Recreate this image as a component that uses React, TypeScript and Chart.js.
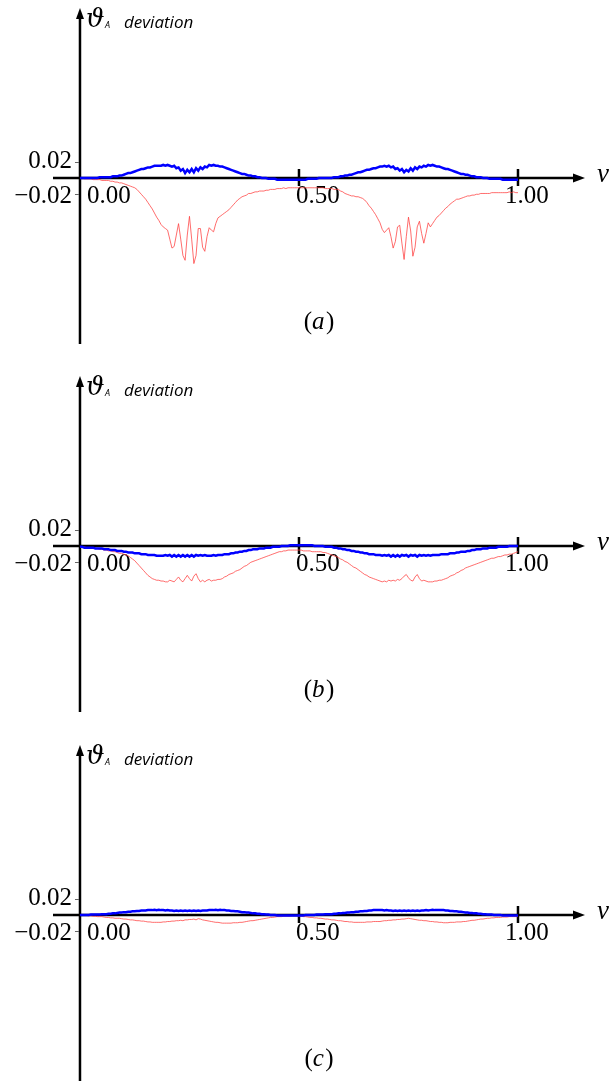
import React, { useEffect, useRef } from "react";
import { Chart, registerables } from "chart.js";

Chart.register(...registerables);

// v sampled from 0 to 1 in steps of 0.005 (201 samples); series values are in thousandths.
const V_SAMPLES = 201;
const xTickValues = [0, 0.5, 1];
const xTickLabels = ["0.00", "0.50", "1.00"];
const yTickValues = [0.02, -0.02];
const yTickLabels = ["0.02", "\u22120.02"];
const captions = ["a", "b", "c"];

const aBlue = [
  0, 0, 0, 0, 0, 0, 0, 0, 0, 1,
  1, 1, 1, 1, 1, 2, 2, 2, 3, 3,
  4, 5, 6, 6, 7, 8, 9, 10, 11, 11,
  12, 13, 13, 14, 15, 15, 15, 15, 16, 15,
  16, 15, 14, 15, 12, 13, 9, 11, 6, 10,
  7, 11, 7, 12, 9, 13, 11, 14, 13, 16,
  15, 16, 15, 15, 14, 14, 13, 12, 11, 10,
  9, 8, 7, 6, 5, 5, 4, 3, 3, 2,
  2, 1, 1, 0, 0, 0, -1, -1, -1, -1,
  -2, -2, -2, -2, -2, -2, -2, -2, -2, -2,
  -2, -2, -2, -2, -1, -1, -1, -1, -1, 0,
  0, 0, 0, 0, 0, 0, 1, 1, 1, 2,
  2, 3, 3, 4, 4, 5, 6, 7, 7, 8,
  9, 10, 10, 11, 12, 12, 13, 14, 14, 15,
  14, 15, 13, 14, 11, 12, 9, 11, 7, 10,
  8, 12, 9, 13, 11, 14, 13, 15, 14, 16,
  15, 16, 15, 14, 14, 13, 12, 11, 11, 10,
  9, 8, 7, 6, 5, 5, 4, 4, 3, 2,
  2, 1, 1, 1, 0, 0, 0, -1, -1, -1,
  -1, -1, -1, -2, -2, -2, -2, -2, -2, -2,
  -2,
];

const aRed = [
  0, 0, -1, -1, -1, -1, -2, -2, -2, -2,
  -3, -3, -3, -3, -4, -4, -5, -5, -6, -6,
  -7, -8, -9, -10, -11, -12, -14, -17, -20, -23,
  -26, -30, -34, -38, -43, -48, -52, -57, -60, -62,
  -64, -75, -86, -84, -70, -56, -75, -95, -101, -70,
  -47, -75, -105, -95, -62, -62, -85, -90, -72, -61,
  -64, -66, -56, -49, -47, -45, -43, -41, -39, -36,
  -33, -30, -27, -25, -23, -22, -21, -19, -19, -18,
  -17, -17, -16, -16, -16, -15, -15, -14, -14, -14,
  -13, -13, -13, -12, -13, -12, -12, -12, -12, -12,
  -12, -12, -12, -12, -12, -12, -12, -12, -12, -12,
  -12, -12, -13, -13, -13, -13, -14, -14, -14, -16,
  -17, -19, -20, -21, -22, -22, -23, -23, -24, -25,
  -27, -30, -34, -37, -41, -45, -50, -55, -63, -67,
  -64, -61, -72, -86, -78, -60, -58, -80, -100, -72,
  -48, -65, -96, -85, -60, -53, -68, -80, -68, -55,
  -60, -56, -52, -48, -46, -43, -40, -37, -35, -32,
  -30, -28, -26, -26, -25, -24, -23, -22, -22, -21,
  -21, -20, -20, -19, -19, -19, -19, -19, -18, -18,
  -18, -18, -18, -18, -18, -18, -17, -18, -17, -18,
  -18,
];

const bBlue = [
  -1, -1, -2, -2, -2, -2, -2, -3, -3, -3,
  -3, -4, -4, -4, -5, -5, -5, -6, -6, -6,
  -7, -7, -8, -8, -8, -9, -9, -9, -10, -10,
  -10, -11, -11, -11, -11, -12, -12, -12, -12, -11,
  -12, -11, -13, -11, -13, -11, -13, -11, -13, -11,
  -13, -11, -13, -11, -12, -11, -12, -11, -12, -12,
  -12, -11, -12, -11, -11, -11, -10, -10, -10, -9,
  -9, -8, -8, -7, -7, -6, -6, -5, -5, -4,
  -4, -4, -3, -3, -3, -2, -2, -2, -1, -1,
  -1, -1, 0, 0, 0, 0, 1, 1, 1, 1,
  1, 1, 1, 1, 1, 1, 1, 0, 0, 0,
  0, 0, -1, -1, -1, -1, -2, -2, -3, -3,
  -4, -4, -5, -5, -6, -6, -7, -7, -8, -8,
  -9, -9, -10, -10, -10, -11, -11, -11, -12, -11,
  -12, -11, -13, -11, -13, -11, -13, -11, -12, -11,
  -13, -11, -12, -11, -13, -11, -12, -11, -12, -11,
  -12, -11, -11, -11, -11, -10, -10, -10, -10, -9,
  -9, -9, -8, -8, -7, -7, -7, -6, -6, -5,
  -5, -4, -4, -4, -3, -3, -3, -2, -2, -2,
  -2, -1, -1, -1, -1, -1, 0, 0, 0, 0,
  0,
];

const bRed = [
  -1, -1, -1, -2, -2, -2, -3, -3, -3, -4,
  -4, -5, -5, -6, -6, -7, -7, -8, -9, -9,
  -10, -11, -12, -14, -16, -18, -21, -24, -27, -30,
  -33, -36, -38, -40, -41, -42, -42, -43, -43, -44,
  -44, -42, -43, -44, -41, -38, -42, -44, -40, -36,
  -40, -43, -37, -34, -40, -44, -42, -44, -42, -41,
  -43, -42, -42, -41, -41, -40, -38, -37, -35, -34,
  -33, -31, -30, -29, -27, -25, -24, -22, -20, -19,
  -18, -17, -16, -15, -14, -13, -12, -11, -10, -9,
  -8, -7, -7, -6, -6, -5, -5, -5, -5, -5,
  -5, -5, -6, -6, -6, -6, -7, -7, -7, -7,
  -7, -8, -8, -9, -10, -11, -12, -13, -14, -16,
  -17, -19, -20, -22, -24, -26, -27, -29, -31, -33,
  -35, -36, -38, -39, -40, -41, -42, -43, -44, -43,
  -44, -42, -43, -42, -43, -41, -42, -40, -37, -35,
  -39, -42, -43, -38, -35, -40, -43, -42, -43, -44,
  -44, -44, -43, -43, -42, -42, -41, -40, -39, -37,
  -36, -35, -33, -32, -30, -29, -27, -26, -25, -24,
  -23, -22, -21, -20, -19, -18, -17, -16, -15, -15,
  -14, -13, -13, -12, -11, -11, -10, -10, -9, -8,
  -7,
];

const cBlue = [
  0, 0, 0, 0, 0, 0.5, 0.5, 0.5, 0.5, 0.5,
  1, 1, 1, 1.5, 1.5, 2, 2, 2.5, 3, 3,
  3.5, 3.5, 4, 4, 4.5, 4.5, 5, 5, 5.5, 5.5,
  5.5, 6, 6, 6, 6.5, 6, 6.5, 6, 6, 5.5,
  6, 5.5, 5.5, 5, 5.5, 5, 5.5, 5, 5.5, 5,
  5.5, 5, 5.5, 5, 5.5, 5, 5.5, 5.5, 5.5, 6,
  6, 6, 6.5, 6, 6.5, 6, 6, 5.5, 5.5, 5,
  5, 4.5, 4.5, 4, 3.5, 3.5, 3, 3, 2.5, 2,
  2, 1.5, 1.5, 1, 1, 0.5, 0.5, 0, 0, 0,
  -0.5, -0.5, -0.5, -0.5, -0.5, -0.5, -0.5, -0.5, -0.5, -0.5,
  -0.5, -0.5, -0.5, 0, 0, 0, 0, 0, 0.5, 0.5,
  0.5, 0.5, 1, 1, 1, 1, 1.5, 1.5, 2, 2,
  2.5, 2.5, 3, 3, 3.5, 3.5, 4, 4, 4.5, 4.5,
  5, 5, 5.5, 5.5, 6, 6, 6, 6, 6, 5.5,
  6, 5.5, 5.5, 5, 5.5, 5, 5.5, 5, 5.5, 5,
  5.5, 5, 5.5, 5, 5.5, 5, 5.5, 5.5, 6, 5.5,
  6, 6.5, 6, 6, 6, 6, 6, 5.5, 5.5, 5,
  5, 4.5, 4.5, 4, 4, 3.5, 3, 3, 2.5, 2.5,
  2, 2, 1.5, 1.5, 1, 1, 0.5, 0.5, 0.5, 0,
  0, 0, 0, -0.5, -0.5, -0.5, -0.5, -0.5, -0.5, -0.5,
  -0.5,
];

const cRed = [
  0, 0, -0.5, -0.5, -1, -1, -1.5, -1.5, -2, -2,
  -2, -2.5, -3, -3, -3.5, -3.5, -4, -4, -4, -4.5,
  -5, -5, -5.5, -6, -6, -6.5, -7, -7, -7.5, -7.5,
  -8, -8.5, -8.5, -9, -9, -9, -9, -9, -8.5, -8.5,
  -8, -8, -7.5, -7.5, -7, -7, -6.5, -7, -6, -6,
  -5.5, -5.5, -5, -6, -4.5, -5, -6, -6.5, -7, -7.5,
  -8, -8.5, -9, -9, -9.5, -10, -10, -10, -10, -10,
  -9.5, -9.5, -9.5, -9, -9, -8.5, -8, -7.5, -7, -7,
  -6.5, -6, -5.5, -5, -4.5, -4, -3.5, -3, -3, -2.5,
  -2, -2, -2, -1.5, -1.5, -1.5, -1.5, -1, -1, -1,
  -1.5, -1.5, -2, -2, -2.5, -3, -3, -3.5, -3.5, -4,
  -4, -4.5, -5, -5, -5.5, -6, -6, -6.5, -7, -7,
  -7.5, -8, -8, -8.5, -8.5, -9, -9, -9, -9, -9,
  -9, -8.5, -8.5, -8.5, -8, -8, -8, -8, -7.5, -7,
  -7, -6.5, -6.5, -6, -6, -5.5, -5.5, -5, -5, -4.5,
  -4, -4.5, -5, -5.5, -6, -6.5, -6.5, -7, -7, -7.5,
  -8, -8, -8.5, -8.5, -9, -9, -9.5, -9.5, -9.5, -9,
  -9, -9, -8.5, -8.5, -8.5, -8, -8, -7.5, -7, -6.5,
  -6.5, -6, -5.5, -5, -5, -4.5, -4, -4, -3.5, -3.5,
  -3, -3, -3, -2.5, -2.5, -2.5, -2, -2, -2, -2,
  -2,
];

const panelBlue = [aBlue, bBlue, cBlue];
const panelRed = [aRed, bRed, cRed];

// ---- layout / style (not data) ----
const W = 614;
const H = 368;
const PANEL_TOPS = [-6, 362, 731];
const X_MIN = -0.0616;
const X_MAX = 1.153;
const Y_MIN = -0.2037;
const Y_MAX = 0.2086;
const PAD = { left: 53, right: 29, top: 14, bottom: 18 };
const X_LABEL_SHIFT = [7, -3, -13];
const TICK_FONT = "25px 'Liberation Serif'";
const CAP_SIZE = 25;

function toPoints(vals: number[]) {
  const pts: { x: number; y: number }[] = [];
  for (let i = 0; i < V_SAMPLES; i++) {
    pts.push({ x: i / (V_SAMPLES - 1), y: vals[i] / 1000 });
  }
  return pts;
}

function makeDecor(caption: string) {
  return {
    id: "decor",
    beforeDatasetsDraw(chart: any) {
      const ctx: CanvasRenderingContext2D = chart.ctx;
      const xs = chart.scales.x;
      const ys = chart.scales.y;
      const x0 = xs.getPixelForValue(0);
      const y0 = ys.getPixelForValue(0);
      const area = chart.chartArea;
      ctx.save();
      ctx.strokeStyle = "#000";
      ctx.fillStyle = "#000";
      ctx.lineWidth = 2.5;
      ctx.lineCap = "butt";
      // x axis
      ctx.beginPath();
      ctx.moveTo(area.left, y0);
      ctx.lineTo(area.right - 8, y0);
      ctx.stroke();
      ctx.beginPath();
      ctx.moveTo(area.right, y0);
      ctx.lineTo(area.right - 12, y0 - 4.5);
      ctx.lineTo(area.right - 12, y0 + 4.5);
      ctx.closePath();
      ctx.fill();
      // y axis
      ctx.beginPath();
      ctx.moveTo(x0, area.bottom);
      ctx.lineTo(x0, area.top + 8);
      ctx.stroke();
      ctx.beginPath();
      ctx.moveTo(x0, area.top);
      ctx.lineTo(x0 - 4, area.top + 11);
      ctx.lineTo(x0 + 4, area.top + 11);
      ctx.closePath();
      ctx.fill();
      // x ticks
      xTickValues.forEach((v) => {
        if (v === 0) return;
        const px = xs.getPixelForValue(v);
        ctx.beginPath();
        ctx.moveTo(px, y0 - 9);
        ctx.lineTo(px, y0 + 8);
        ctx.stroke();
      });
      // y ticks
      ctx.lineWidth = 1;
      ctx.strokeStyle = "#666";
      yTickValues.forEach((v) => {
        const py = Math.round(ys.getPixelForValue(v)) + 0.5;
        ctx.beginPath();
        ctx.moveTo(x0 - 5, py);
        ctx.lineTo(x0 - 1, py);
        ctx.stroke();
      });
      // tick labels
      ctx.fillStyle = "#000";
      ctx.font = TICK_FONT;
      ctx.textBaseline = "middle";
      ctx.textAlign = "right";
      yTickValues.forEach((v, i) => {
        const py = ys.getPixelForValue(v);
        ctx.fillText(yTickLabels[i], x0 - 8, py + (v > 0 ? 0 : 2));
      });
      ctx.textAlign = "left";
      ctx.textBaseline = "alphabetic";
      xTickValues.forEach((v, i) => {
        const px = xs.getPixelForValue(v);
        ctx.fillText(xTickLabels[i], px + X_LABEL_SHIFT[i], y0 + 25);
      });
      // x axis name
      ctx.font = "italic 27px 'Liberation Serif'";
      ctx.fillText("v", area.right + 12, y0 + 4);
      // y axis name
      ctx.font = "italic 26px 'DejaVu Serif'";
      ctx.fillText("\u03D1", x0 + 6, y0 - 151);
      ctx.font = "italic 9px 'Open Sans'";
      ctx.fillText("A", x0 + 25, y0 - 150);
      ctx.font = "italic 17px 'Open Sans'";
      ctx.fillText("deviation", x0 + 44, y0 - 150);
      // caption
      ctx.font = `${CAP_SIZE}px 'Liberation Serif'`;
      const lp = ctx.measureText("(").width;
      ctx.font = `italic ${CAP_SIZE}px 'Liberation Serif'`;
      const la = ctx.measureText(caption).width + 1.5;
      ctx.font = `${CAP_SIZE}px 'Liberation Serif'`;
      const rp = ctx.measureText(")").width;
      const total = lp + la + rp;
      let cx = 319 - total / 2;
      const cy = y0 + 151;
      ctx.fillText("(", cx, cy);
      cx += lp;
      ctx.font = `italic ${CAP_SIZE}px 'Liberation Serif'`;
      ctx.fillText(caption, cx, cy);
      cx += la;
      ctx.font = `${CAP_SIZE}px 'Liberation Serif'`;
      ctx.fillText(")", cx, cy);
      ctx.restore();
    },
  };
}

function Panel({ idx }: { idx: number }) {
  const ref = useRef<HTMLCanvasElement | null>(null);
  useEffect(() => {
    if (!ref.current) return;
    const chart = new Chart(ref.current, {
      type: "line",
      data: {
        datasets: [
          {
            data: toPoints(panelBlue[idx]),
            borderColor: "#0000ff",
            borderWidth: 2.5,
            pointRadius: 0,
            tension: 0,
            fill: false,
          },
          {
            data: toPoints(panelRed[idx]),
            borderColor: "rgba(255,60,60,0.75)",
            borderWidth: 1,
            pointRadius: 0,
            tension: 0,
            fill: false,
          },
        ],
      },
      options: {
        responsive: false,
        animation: false,
        events: [],
        layout: { padding: PAD },
        plugins: {
          legend: { display: false },
          tooltip: { enabled: false },
          title: { display: false },
        },
        scales: {
          x: { type: "linear", min: X_MIN, max: X_MAX, display: false },
          y: { type: "linear", min: Y_MIN, max: Y_MAX, display: false },
        },
      },
      plugins: [makeDecor(captions[idx])],
    } as any);
    return () => chart.destroy();
  }, [idx]);
  return (
    <canvas
      ref={ref}
      width={W}
      height={H}
      style={{ position: "absolute", left: 0, top: PANEL_TOPS[idx], width: W, height: H }}
    />
  );
}

export default function App() {
  return (
    <div
      style={{
        position: "fixed",
        left: 0,
        top: 0,
        width: W,
        height: 1082,
        overflow: "hidden",
        background: "#fff",
      }}
    >
      <Panel idx={0} />
      <Panel idx={1} />
      <Panel idx={2} />
    </div>
  );
}
